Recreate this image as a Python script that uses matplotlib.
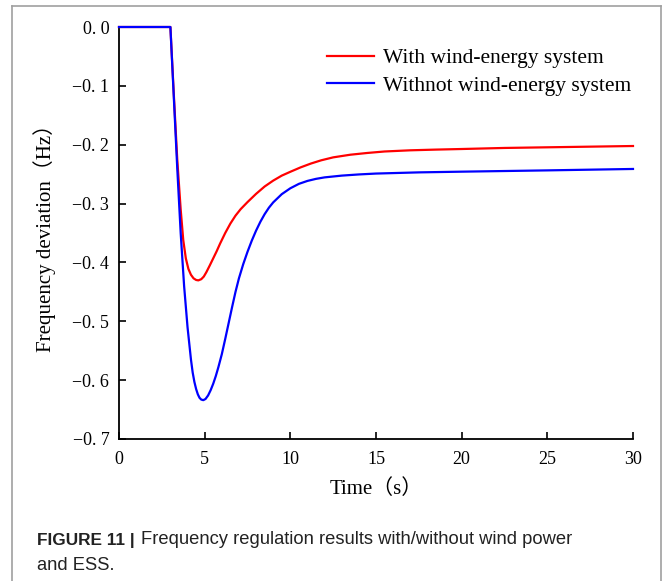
import matplotlib
matplotlib.use("Agg")
import matplotlib.pyplot as plt
from matplotlib.lines import Line2D

# data (time in s, frequency deviation in Hz)
t_with = [0, 3.0, 3.2, 3.4, 3.6, 3.75, 3.9, 4.05, 4.2, 4.35, 4.5, 4.63, 4.8, 4.95,
          5.1, 5.3, 5.5, 5.7, 5.9, 6.2, 6.5, 6.8, 7.1, 7.5, 8.0, 8.5, 9.0, 9.5, 10.0,
          10.6, 11.2, 11.8, 12.5, 13.5, 14.5, 15.5, 17.0, 18.5, 20, 22.5, 25, 27.5, 30]
f_with = [0, 0, -0.115, -0.225, -0.31, -0.362, -0.393, -0.411, -0.421, -0.427, -0.4298,
          -0.4305, -0.4285, -0.4240, -0.4165, -0.405, -0.393, -0.381, -0.368, -0.350,
          -0.334, -0.3205, -0.3095, -0.2975, -0.2835, -0.271, -0.261, -0.2525, -0.246,
          -0.2385, -0.232, -0.2265, -0.2215, -0.217, -0.214, -0.2115, -0.2095, -0.2083,
          -0.2073, -0.2055, -0.2044, -0.2033, -0.2022]

t_without = [0, 3.0, 3.2, 3.4, 3.6, 3.8, 4.0, 4.2, 4.3, 4.4, 4.5, 4.6, 4.7, 4.8, 4.92,
             5.05, 5.2, 5.35, 5.5, 5.65, 5.8, 6.0, 6.2, 6.4, 6.6, 6.8, 7.0, 7.25, 7.5,
             7.75, 8.0, 8.25, 8.5, 8.75, 9.0, 9.5, 10.0, 10.5, 11.0, 11.5, 12.0, 13, 14,
             15, 17.5, 20, 22.5, 25, 27.5, 30]
f_without = [0, 0, -0.12, -0.24, -0.35, -0.44, -0.51, -0.565, -0.587, -0.603, -0.615,
             -0.624, -0.630, -0.633, -0.634, -0.632, -0.626, -0.617, -0.606, -0.593,
             -0.578, -0.556, -0.530, -0.503, -0.476, -0.450, -0.427, -0.403, -0.382,
             -0.363, -0.346, -0.331, -0.318, -0.307, -0.298, -0.284, -0.274, -0.2665,
             -0.2615, -0.258, -0.2555, -0.2525, -0.2505, -0.2490, -0.2470, -0.2458,
             -0.2447, -0.2436, -0.2424, -0.2412]

labels = ["With wind-energy system", "Withnot wind-energy system"]
x_ticks = [0, 5, 10, 15, 20, 25, 30]
y_ticks = [0.0, -0.1, -0.2, -0.3, -0.4, -0.5, -0.6, -0.7]
y_tick_labels = ["0. 0", "\u22120. 1", "\u22120. 2", "\u22120. 3", "\u22120. 4",
                 "\u22120. 5", "\u22120. 6", "\u22120. 7"]

serif = ["Liberation Serif", "Noto Sans CJK SC", "DejaVu Sans"]

fig = plt.figure(figsize=(6.67, 5.81), dpi=100)

# grey frame around the figure panel
fig.add_artist(Line2D([12/667, 12/667], [0, 1 - 6/581], color="#a0a0a0", lw=1.2))
fig.add_artist(Line2D([12/667, 661/667], [1 - 6/581, 1 - 6/581], color="#a0a0a0", lw=1.2))
fig.add_artist(Line2D([661/667, 661/667], [0, 1 - 6/581], color="#a0a0a0", lw=1.2))

ax = fig.add_axes([119/667, 1 - 439/581, 514/667, 412/581])
ax.plot(t_with, f_with, color="#ff0000", lw=1.6, label=labels[0], clip_on=False, zorder=3)
ax.plot(t_without, f_without, color="#0000ff", lw=1.6, label=labels[1], clip_on=False, zorder=4)

ax.set_xlim(0, 30)
ax.set_ylim(-0.7, 0.0)
ax.set_xticks(x_ticks)
ax.set_xticklabels([str(v) for v in x_ticks], family=serif, fontsize=13)
ax.set_yticks(y_ticks)
ax.set_yticklabels(y_tick_labels, family=serif, fontsize=13)
ax.tick_params(direction="in", length=5, width=1.2, color="black")
ax.tick_params(axis="x", pad=9)
ax.tick_params(axis="y", pad=7)

for side in ["top", "right"]:
    ax.spines[side].set_visible(False)
for side in ["left", "bottom"]:
    ax.spines[side].set_linewidth(1.3)

ax.set_xlabel("Time\uff08s\uff09", family=serif, fontsize=15, labelpad=8)
ax.set_ylabel("Frequency deviation\uff08Hz\uff09", family=serif, fontsize=15, labelpad=12)

ax.legend(loc="upper right", bbox_to_anchor=(1.025, 0.985), frameon=False,
          prop={"family": serif, "size": 15.5}, handlelength=2.2, handletextpad=0.4,
          labelspacing=0.35, borderaxespad=0.3)

cap_col = "#222222"
fig.text(37/667, 1 - 540/581, "FIGURE 11 |", family="Liberation Sans", fontweight="bold",
         fontsize=12.4, va="center", ha="left", color=cap_col)
fig.text(141/667, 1 - 540/581, "Frequency regulation results with/without wind power",
         family="Liberation Sans", fontsize=13.2, va="center", ha="left", color=cap_col)
fig.text(37/667, 1 - 566/581, "and ESS.", family="Liberation Sans", fontsize=13.2,
         va="center", ha="left", color=cap_col)

fig.savefig("out.png", dpi=100)
